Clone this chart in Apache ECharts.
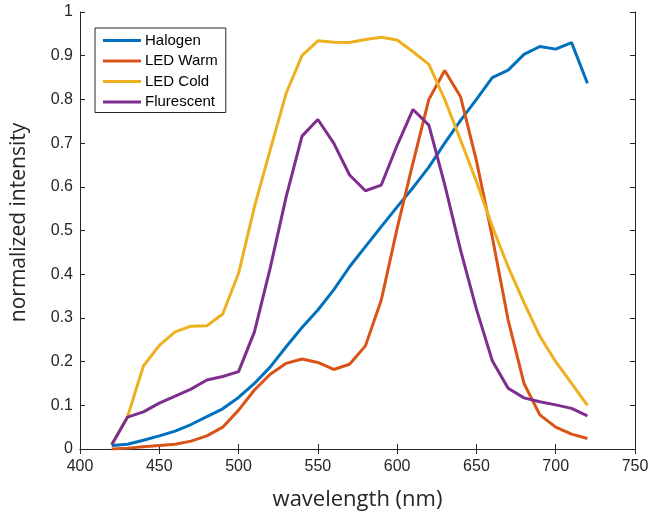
<!DOCTYPE html>
<html><head><meta charset="utf-8">
<script src="https://cdn.jsdelivr.net/npm/echarts@6/dist/echarts.min.js"></script>
<style>html,body{margin:0;padding:0;background:#fff}#c{width:649px;height:513px}</style>
</head><body><div id="c"></div>
<script>
const wavelengths = [420,430,440,450,460,470,480,490,500,510,520,530,540,550,560,570,580,590,600,610,620,630,640,650,660,670,680,690,700,710,720];
const halogen = [0.008,0.011,0.02,0.03,0.041,0.056,0.074,0.092,0.118,0.15,0.188,0.234,0.278,0.318,0.364,0.417,0.463,0.509,0.554,0.598,0.645,0.70,0.752,0.80,0.85,0.867,0.903,0.921,0.915,0.93,0.837];
const ledWarm = [0.0,0.002,0.005,0.008,0.011,0.018,0.03,0.05,0.089,0.135,0.171,0.196,0.206,0.198,0.182,0.194,0.236,0.341,0.505,0.655,0.80,0.866,0.806,0.66,0.485,0.295,0.15,0.078,0.05,0.034,0.024];
const ledCold = [0.01,0.074,0.19,0.237,0.268,0.281,0.282,0.309,0.402,0.554,0.685,0.814,0.90,0.934,0.931,0.93,0.937,0.942,0.936,0.909,0.88,0.80,0.707,0.612,0.509,0.417,0.335,0.258,0.2,0.15,0.1];
const flurescent = [0.01,0.073,0.085,0.105,0.121,0.137,0.158,0.166,0.177,0.268,0.415,0.577,0.716,0.754,0.70,0.627,0.591,0.604,0.695,0.777,0.741,0.605,0.455,0.32,0.202,0.139,0.117,0.108,0.101,0.093,0.076];
const seriesNames = ['Halogen','LED Warm','LED Cold','Flurescent'];
const colors = ['#0072BD','#D95319','#EDB120','#7E2F8E'];

const zip = a => wavelengths.map((w,i)=>[w,a[i]]);
const allData = [halogen, ledWarm, ledCold, flurescent];
const axisColor = '#262626';
const font = 'Liberation Sans, Arial, Helvetica, sans-serif';
const nameFont = 'Open Sans, sans-serif';

const chart = echarts.init(document.getElementById('c'));
const baseAxis = {
  axisLine:{show:true,lineStyle:{color:axisColor,width:1}},
  axisTick:{show:true,inside:true,length:5,lineStyle:{color:axisColor}},
  splitLine:{show:false}
};
chart.setOption({
  animation:false,
  color: colors,
  grid:{left:80,right:14,top:12,bottom:64,containLabel:false,outerBoundsMode:'none'},
  legend:{
    data: seriesNames, orient:'vertical', left:95, top:28,
    icon:'rect', itemWidth:38, itemHeight:3, itemGap:5.5,
    padding:[5,8,3,8],
    borderColor:'#262626', borderWidth:1, backgroundColor:'#fff',
    textStyle:{fontFamily:font,fontSize:15,color:'#000',padding:[0,0,0,-1]}
  },
  xAxis:[
    Object.assign({type:'value',min:400,max:750,interval:50,position:'bottom',
      name:'wavelength (nm)',nameLocation:'middle',nameGap:40,
      nameTextStyle:{fontFamily:nameFont,fontSize:22,color:axisColor},
      axisLabel:{fontFamily:font,fontSize:16,color:axisColor,margin:10}}, baseAxis),
    Object.assign({type:'value',min:400,max:750,interval:50,position:'top',
      axisLabel:{show:false}}, baseAxis)
  ],
  yAxis:[
    Object.assign({type:'value',min:0,max:1,interval:0.1,position:'left',
      name:'normalized intensity',nameLocation:'middle',nameGap:50,
      nameTextStyle:{fontFamily:nameFont,fontSize:21,color:axisColor,padding:[0,0,0,16]},
      axisLabel:{fontFamily:font,fontSize:16,color:axisColor,margin:7}}, baseAxis),
    Object.assign({type:'value',min:0,max:1,interval:0.1,position:'right',
      axisLabel:{show:false}}, baseAxis)
  ],
  series: seriesNames.map((n,i)=>({
    name:n, type:'line', data: zip(allData[i]), symbol:'none',
    lineStyle:{width:3,color:colors[i]}, itemStyle:{color:colors[i]}
  }))
});
</script></body></html>
